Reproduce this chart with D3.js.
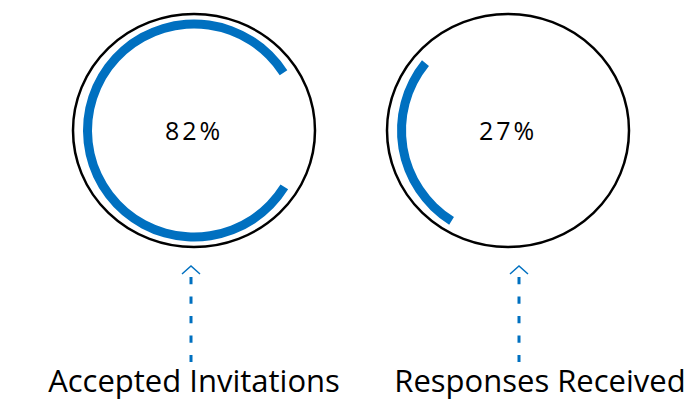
<!DOCTYPE html>
<html>
<head>
<meta charset="utf-8">
<script src="https://cdn.jsdelivr.net/npm/d3@7"></script>
<style>
  body { margin: 0; background: #fff; }
  text { font-family: 'Segoe Print', 'Comic Sans MS', 'Open Sans', sans-serif; fill: #000; }
</style>
</head>
<body>
<div id="chart"></div>
<script>
// Chart data
const categories = ['Accepted Invitations', 'Responses Received'];
const percentValues = [82, 27];

class ProgressRings {

  constructor(_config, _categories, _values) {
    this.config = {
      parentElement: _config.parentElement,
      containerWidth: _config.containerWidth || 700,
      containerHeight: _config.containerHeight || 400,
      centerRange: [194, 508],
      centerY: 130.5,
      ringRx: 121,
      ringRy: 116.5,
      arcInner: 102,
      arcOuter: 111,
      // each doughnut is rotated on its own, like the original
      arcStart: [122, 212],
      arrowOffset: [-3, 11],
      labelOffset: [0, 32],
      arrowTop: 266,
      arrowBottom: 362,
      labelY: 392,
      blue: '#0070c0'
    };
    this.categories = _categories;
    this.values = _values;
    this.initVis();
  }

  initVis() {
    let vis = this;

    vis.svg = d3.select(vis.config.parentElement).append('svg')
        .attr('width', vis.config.containerWidth)
        .attr('height', vis.config.containerHeight);

    // one panel per category
    vis.xScale = d3.scalePoint()
        .domain(vis.categories)
        .range(vis.config.centerRange);

    // percent -> sweep angle
    vis.angleScale = d3.scaleLinear()
        .domain([0, 100])
        .range([0, 2 * Math.PI]);

    vis.arc = d3.arc()
        .innerRadius(vis.config.arcInner)
        .outerRadius(vis.config.arcOuter);

    vis.renderVis();
  }

  renderVis() {
    let vis = this;
    const cfg = vis.config;
    const rows = vis.categories.map((c, i) => ({ name: c, value: vis.values[i], i: i }));

    const panel = vis.svg.selectAll('.panel')
        .data(rows)
      .join('g')
        .attr('class', 'panel')
        .attr('transform', d => `translate(${vis.xScale(d.name)},0)`);

    // outer ring
    panel.append('ellipse')
        .attr('cx', 0)
        .attr('cy', cfg.centerY)
        .attr('rx', cfg.ringRx)
        .attr('ry', cfg.ringRy)
        .attr('fill', 'none')
        .attr('stroke', '#000')
        .attr('stroke-width', 2.5);

    // progress arc
    panel.append('path')
        .attr('transform', `translate(0,${cfg.centerY})`)
        .attr('fill', cfg.blue)
        .attr('d', d => {
          const start = cfg.arcStart[d.i] * Math.PI / 180;
          return vis.arc({ startAngle: start, endAngle: start + vis.angleScale(d.value) });
        });

    // value in the middle
    panel.append('text')
        .attr('class', 'value-label')
        .attr('text-anchor', 'middle')
        .attr('y', cfg.centerY + 9)
        .attr('font-size', 25)
        .attr('letter-spacing', 3)
        .text(d => `${d.value}%`);

    // dashed arrow pointing up to the ring
    const arrow = panel.append('g')
        .attr('transform', d => `translate(${cfg.arrowOffset[d.i]},0)`);

    arrow.append('line')
        .attr('y1', cfg.arrowTop + 11)
        .attr('y2', cfg.arrowBottom)
        .attr('stroke', cfg.blue)
        .attr('stroke-width', 3)
        .attr('stroke-dasharray', '7.3,12.2');

    arrow.append('path')
        .attr('d', `M-9,${cfg.arrowTop + 8}L0,${cfg.arrowTop}L9,${cfg.arrowTop + 8}`)
        .attr('fill', 'none')
        .attr('stroke', cfg.blue)
        .attr('stroke-width', 1.5);

    // category name
    panel.append('text')
        .attr('class', 'category-label')
        .attr('text-anchor', 'middle')
        .attr('x', d => cfg.labelOffset[d.i])
        .attr('y', cfg.labelY)
        .attr('font-size', 31)
        .text(d => d.name);
  }
}

new ProgressRings({ parentElement: '#chart' }, categories, percentValues);
</script>
</body>
</html>
